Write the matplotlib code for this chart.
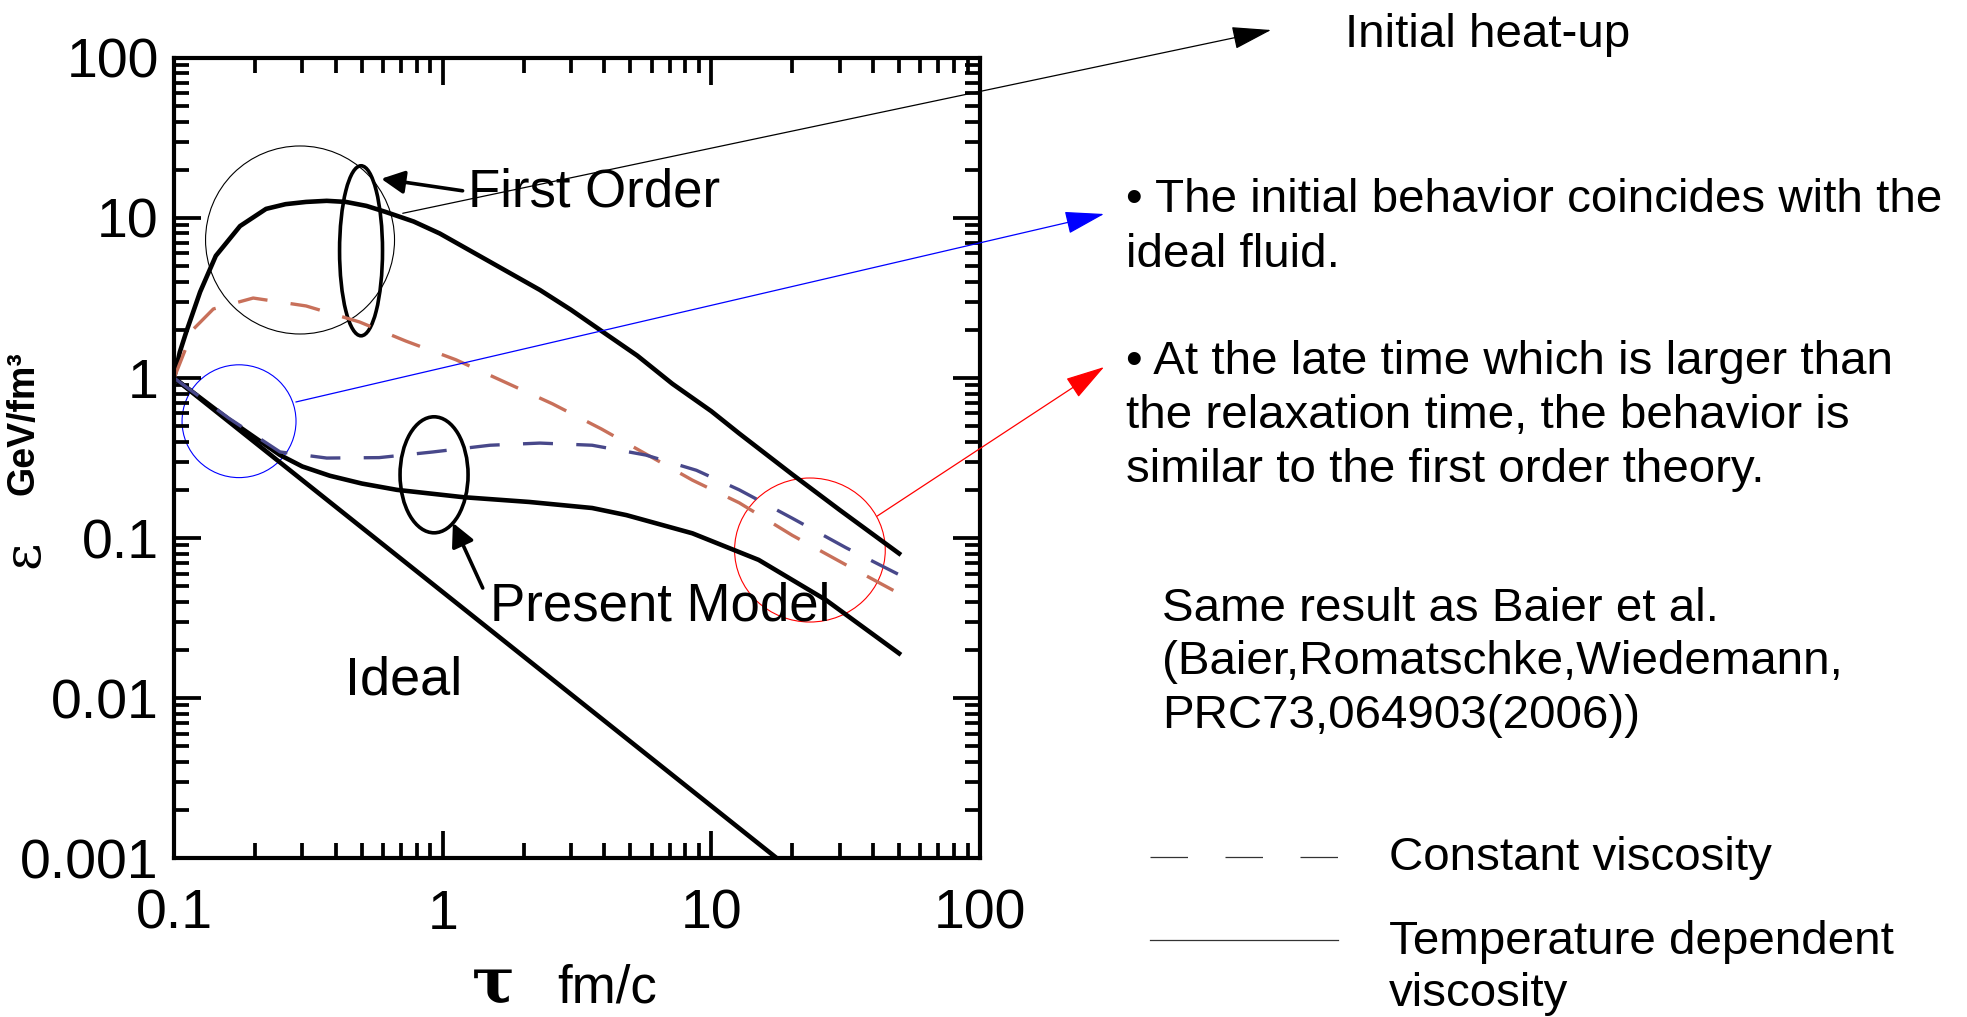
import matplotlib
matplotlib.use("Agg")
import matplotlib.pyplot as plt
from matplotlib.patches import Ellipse
from matplotlib.lines import Line2D
from matplotlib.ticker import LogLocator, NullFormatter

plt.rcParams["font.family"] = ["Liberation Sans", "DejaVu Sans"]

# energy density vs proper time
ideal_tau = [0.1, 17.5]
ideal_eps = [1.0, 0.001]

first_tau = [0.1, 0.105, 0.111, 0.125, 0.143, 0.176, 0.22, 0.26, 0.31, 0.37, 0.436, 0.52, 0.614, 0.78,
             0.975, 1.71, 2.3, 3.0, 3.93, 5.3, 7.16, 10, 12.7, 20, 30, 50]
first_eps = [1.0, 1.45, 1.94, 3.45, 5.8, 8.9, 11.4, 12.2, 12.6, 12.8, 12.6, 11.9, 10.9, 9.5,
             8.0, 4.7, 3.55, 2.67, 1.95, 1.38, 0.92, 0.62, 0.45, 0.25, 0.15, 0.08]

present_tau = [0.1, 0.16, 0.248, 0.3, 0.38, 0.5, 0.675, 1.19, 2.1, 3.6, 4.83, 8.5, 15, 26.7, 50]
present_eps = [1.0, 0.55, 0.33, 0.28, 0.245, 0.219, 0.2, 0.18, 0.168, 0.154, 0.139, 0.107, 0.073, 0.041, 0.019]

# constant viscosity, first order (red) and present model (blue)
red_tau = [0.1, 0.118, 0.14, 0.197, 0.31, 0.49, 0.73, 1.12, 1.71, 2.56, 3.9, 8.5, 12.7, 20, 31.7, 50]
red_eps = [1.0, 2.02, 2.7, 3.16, 2.82, 2.24, 1.70, 1.3, 0.94, 0.69, 0.48, 0.23, 0.166, 0.104, 0.068, 0.045]

blue_tau = [0.1, 0.16, 0.248, 0.37, 0.58, 0.92, 1.5, 2.3, 3.6, 5.7, 8.8, 12.7, 20, 31.7, 50]
blue_eps = [1.0, 0.56, 0.345, 0.316, 0.318, 0.345, 0.38, 0.392, 0.38, 0.33, 0.265, 0.2, 0.133, 0.087, 0.059]

xticks = [0.1, 1, 10, 100]
xlabels = ["0.1", "1", "10", "100"]
yticks = [0.001, 0.01, 0.1, 1, 10, 100]
ylabels = ["0.001", "0.01", "0.1", "1", "10", "100"]

fig = plt.figure(figsize=(19.67, 10.17), dpi=100)
ax = fig.add_axes([0.0885, 0.1563, 0.4097, 0.7867])

ax.plot(ideal_tau, ideal_eps, color="black", lw=3.3)
ax.plot(first_tau, first_eps, color="black", lw=3.3)
ax.plot(present_tau, present_eps, color="black", lw=3.3)
ax.plot(red_tau, red_eps, color="#c8705a", lw=2.4, dashes=(9, 7))
ax.plot(blue_tau, blue_eps, color="#48488a", lw=2.4, dashes=(9, 7))

ax.set_xscale("log")
ax.set_yscale("log")
ax.set_xlim(0.1, 100)
ax.set_ylim(0.001, 100)
ax.set_xticks(xticks, labels=xlabels)
ax.set_yticks(yticks, labels=ylabels)
ax.xaxis.set_minor_locator(LogLocator(subs=range(2, 10)))
ax.yaxis.set_minor_locator(LogLocator(subs=range(2, 10)))
ax.xaxis.set_minor_formatter(NullFormatter())
ax.yaxis.set_minor_formatter(NullFormatter())
ax.tick_params(which="both", direction="in", top=True, right=True, width=2.7, labelsize=40)
ax.tick_params(which="major", length=19.5)
ax.tick_params(which="minor", length=11)
ax.tick_params(axis="y", pad=11)
ax.tick_params(axis="x", pad=22)
for s in ax.spines.values():
    s.set_linewidth(3)

# in-plot labels and marks
ax.text(0.365, 0.814, "First Order", transform=ax.transAxes, fontsize=38, va="baseline")
ax.text(0.392, 0.2975, "Present Model", transform=ax.transAxes, fontsize=38, va="baseline")
ax.text(0.212, 0.204, "Ideal", transform=ax.transAxes, fontsize=39, va="baseline")

ax.add_patch(Ellipse((0.232, 0.759), 0.0533, 0.2125, transform=ax.transAxes, fill=False, ec="black", lw=2.6))
ax.add_patch(Ellipse((0.3226, 0.479), 0.0844, 0.145, transform=ax.transAxes, fill=False, ec="black", lw=2.6))
ax.add_patch(Ellipse((0.1563, 0.7725), 0.2345, 0.235, transform=ax.transAxes, fill=False, ec="black", lw=0.8))
ax.add_patch(Ellipse((0.0806, 0.546), 0.1414, 0.141, transform=ax.transAxes, fill=False, ec="blue", lw=0.8))
ax.add_patch(Ellipse((0.789, 0.385), 0.187, 0.18, transform=ax.transAxes, fill=False, ec="red", lw=0.8))

short = dict(arrowstyle="-|>,head_length=0.7,head_width=0.35", mutation_scale=20,
             lw=2.6, color="black", shrinkA=0, shrinkB=0)
ax.annotate("", xy=(0.257, 0.849), xytext=(0.358, 0.834), xycoords="axes fraction", arrowprops=short)
ax.annotate("", xy=(0.346, 0.419), xytext=(0.383, 0.3375), xycoords="axes fraction", arrowprops=short)

def long_arrow(start, tip, color):
    ax.annotate("", xy=tip, xycoords="figure fraction", xytext=start, textcoords="data",
                arrowprops=dict(arrowstyle="-|>,head_length=1.25,head_width=0.36", mutation_scale=20,
                                lw=0.9, color=color, shrinkA=0, shrinkB=0),
                annotation_clip=False)

long_arrow((0.71, 10.7), (0.6462, 0.9705), "black")
long_arrow((0.284, 0.708), (0.5613, 0.7896), "blue")
long_arrow((41.4, 0.137), (0.5613, 0.6391), "red")

# axis titles
fig.text(0.0122, 0.4553, "ε", rotation=90, fontsize=38, family="DejaVu Serif", ha="center", va="center")
fig.text(0.0122, 0.584, "GeV/fm³", rotation=90, fontsize=27, fontweight="bold", ha="center", va="center")
fig.text(0.2506, 0.014, "τ", fontsize=46, family="DejaVu Serif", fontweight="bold", ha="center", va="baseline")
fig.text(0.2832, 0.014, "fm/c", fontsize=38, va="baseline")

# notes on the right
fs = 34.2
fig.text(0.6838, 0.9538, "Initial heat-up", fontsize=fs, va="baseline")
lines1 = ["• The initial behavior coincides with the", "ideal fluid."]
for i, t in enumerate(lines1):
    fig.text(0.5725, 0.7915 - i * 0.054, t, fontsize=fs, va="baseline")
lines2 = ["• At the late time which is larger than", "the relaxation time, the behavior is",
          "similar to the first order theory."]
for i, t in enumerate(lines2):
    fig.text(0.5725, 0.6322 - i * 0.053, t, fontsize=fs, va="baseline")
lines3 = ["Same result as Baier et al.", "(Baier,Romatschke,Wiedemann,", "PRC73,064903(2006))"]
for i, t in enumerate(lines3):
    fig.text(0.5907, 0.3894 - i * 0.0526, t, fontsize=fs, va="baseline")

fig.add_artist(Line2D([0.5846, 0.6802], [0.1573, 0.1573], transform=fig.transFigure,
                      color="#333333", lw=0.9, dashes=(30, 30)))
fig.add_artist(Line2D([0.5846, 0.6802], [0.0757, 0.0757], transform=fig.transFigure,
                      color="#333333", lw=0.9))
fig.text(0.7062, 0.1445, "Constant viscosity", fontsize=fs, va="baseline")
fig.text(0.7062, 0.0619, "Temperature dependent", fontsize=fs, va="baseline")
fig.text(0.7062, 0.0108, "viscosity", fontsize=fs, va="baseline")

fig.savefig("out.png", dpi=100)
